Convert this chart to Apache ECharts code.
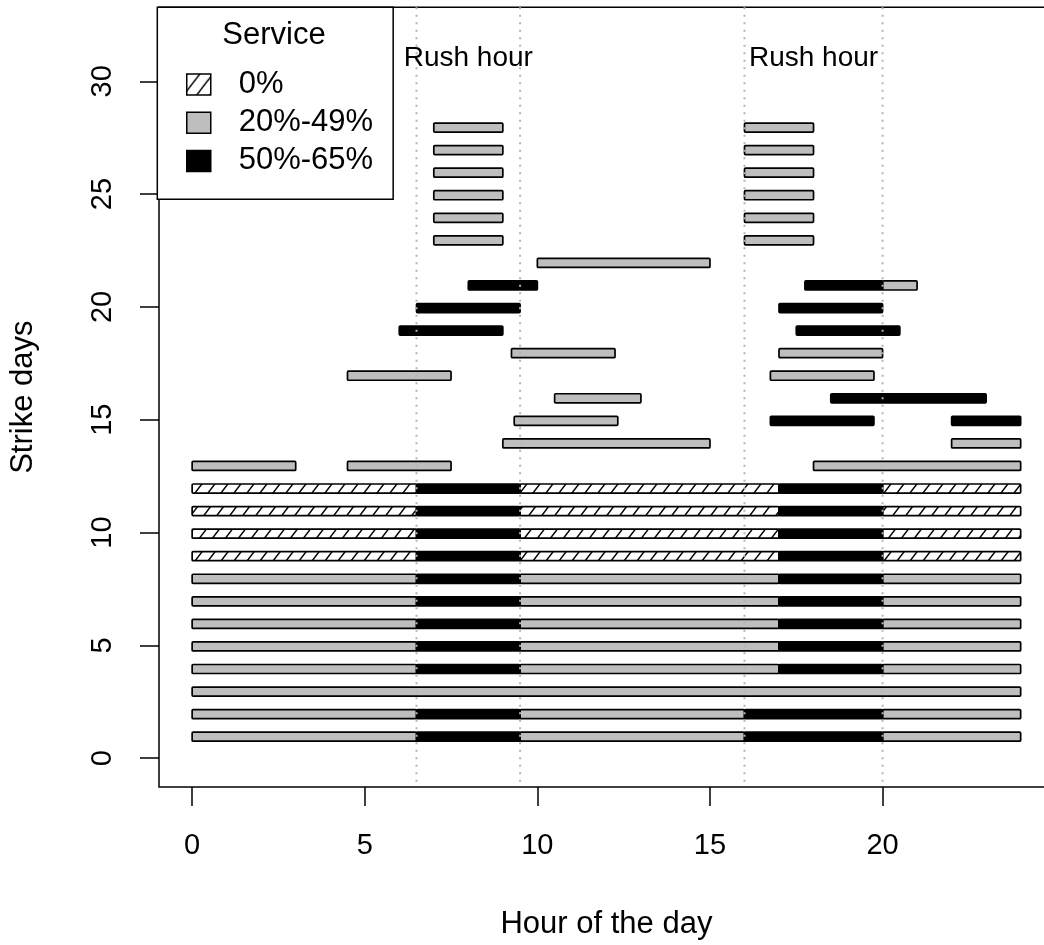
<!DOCTYPE html>
<html><head><meta charset="utf-8">
<script src="https://cdn.jsdelivr.net/npm/echarts@6/dist/echarts.min.js"></script>
<style>html,body{margin:0;padding:0;background:#fff;overflow:hidden}#c{width:1060px;height:945px}</style>
</head><body><div id="c"></div>
<script>
// ---------- data ----------
const xTicks = [0, 5, 10, 15, 20];
const yTicks = [0, 5, 10, 15, 20, 25, 30];
const rushLines = [6.5, 9.5, 16, 20];
const rushLabels = [[8, 31, 'Rush hour'], [18, 31, 'Rush hour']];
const legendNames = ['0%', '20%-49%', '50%-65%'];

// segments: [strike day, start hour, end hour]
const zeroService = [
  [9, 0, 6.5], [9, 9.5, 17], [9, 20, 24],
  [10, 0, 6.5], [10, 9.5, 17], [10, 20, 24],
  [11, 0, 6.5], [11, 9.5, 17], [11, 20, 24],
  [12, 0, 6.5], [12, 9.5, 17], [12, 20, 24]
];
const lowService = [
  [1, 0, 6.5], [1, 9.5, 16], [1, 20, 24],
  [2, 0, 6.5], [2, 9.5, 16], [2, 20, 24],
  [3, 0, 24],
  [4, 0, 6.5], [4, 9.5, 17], [4, 20, 24],
  [5, 0, 6.5], [5, 9.5, 17], [5, 20, 24],
  [6, 0, 6.5], [6, 9.5, 17], [6, 20, 24],
  [7, 0, 6.5], [7, 9.5, 17], [7, 20, 24],
  [8, 0, 6.5], [8, 9.5, 17], [8, 20, 24],
  [13, 0, 3], [13, 4.5, 7.5], [13, 18, 24],
  [14, 9, 15], [14, 22, 24],
  [15, 9.33, 12.33],
  [16, 10.5, 13],
  [17, 4.5, 7.5], [17, 16.75, 19.75],
  [18, 9.25, 12.25], [18, 17, 20],
  [21, 20, 21],
  [22, 10, 15],
  [23, 7, 9], [23, 16, 18],
  [24, 7, 9], [24, 16, 18],
  [25, 7, 9], [25, 16, 18],
  [26, 7, 9], [26, 16, 18],
  [27, 7, 9], [27, 16, 18],
  [28, 7, 9], [28, 16, 18]
];
const highService = [
  [1, 6.5, 9.5], [1, 16, 20],
  [2, 6.5, 9.5], [2, 16, 20],
  [4, 6.5, 9.5], [4, 17, 20],
  [5, 6.5, 9.5], [5, 17, 20],
  [6, 6.5, 9.5], [6, 17, 20],
  [7, 6.5, 9.5], [7, 17, 20],
  [8, 6.5, 9.5], [8, 17, 20],
  [9, 6.5, 9.5], [9, 17, 20],
  [10, 6.5, 9.5], [10, 17, 20],
  [11, 6.5, 9.5], [11, 17, 20],
  [12, 6.5, 9.5], [12, 17, 20],
  [15, 16.75, 19.75], [15, 22, 24],
  [16, 18.5, 23],
  [19, 6, 9], [19, 17.5, 20.5],
  [20, 6.5, 9.5], [20, 17, 20],
  [21, 8, 10], [21, 17.75, 20]
];

// ---------- styling ----------
const FONT = 'Liberation Sans, Arial, sans-serif';
const HALF_H = 0.2;
const Y_SHIFT = -0.05;

function hatchPattern() {
  const w = 13, h = 17;
  const cv = document.createElement('canvas');
  cv.width = w; cv.height = h;
  const ctx = cv.getContext('2d');
  ctx.fillStyle = '#fff';
  ctx.fillRect(0, 0, w, h);
  ctx.strokeStyle = '#000';
  ctx.lineWidth = 1.4;
  ctx.beginPath();
  ctx.moveTo(0, h); ctx.lineTo(w, 0);
  ctx.moveTo(-w, h); ctx.lineTo(0, 0);
  ctx.moveTo(w, h); ctx.lineTo(2 * w, 0);
  ctx.moveTo(0, 2 * h); ctx.lineTo(w, h);
  ctx.moveTo(0, 0); ctx.lineTo(w, -h);
  ctx.stroke();
  return { image: cv, repeat: 'repeat' };
}
const hatch = hatchPattern();
const fills = [hatch, '#bebebe', '#000000'];

function makeBarRender(fill) {
  return function (params, api) {
    const day = api.value(0) + Y_SHIFT, s = api.value(1), e = api.value(2);
    const p0 = api.coord([s, day + HALF_H]);
    const p1 = api.coord([e, day - HALF_H]);
    return {
      type: 'rect',
      shape: { x: p0[0], y: p0[1], width: p1[0] - p0[0], height: p1[1] - p0[1], r: 1 },
      style: { fill: fill, stroke: '#000', lineWidth: 1.7 }
    };
  };
}

const barSeries = [zeroService, lowService, highService].map((d, i) => ({
  type: 'custom',
  name: legendNames[i],
  data: d,
  encode: { x: [1, 2], y: 0 },
  itemStyle: { color: fills[i], borderColor: '#000', borderWidth: 1.5 },
  renderItem: makeBarRender(fills[i]),
  z: 2,
  silent: true
}));

const chart = echarts.init(document.getElementById('c'), null, { renderer: 'canvas' });
chart.setOption({
  animation: false,
  backgroundColor: '#fff',
  grid: { left: 157.3, top: 7.3, width: 896.5, height: 780.4, show: true, borderColor: '#000', borderWidth: 1.5, backgroundColor: 'transparent' },
  xAxis: {
    type: 'value', min: -0.96, max: 24.96,
    axisLine: { show: false, onZero: false },
    splitLine: { show: false },
    axisTick: { show: true, length: 19, customValues: xTicks, lineStyle: { color: '#000', width: 1.5 } },
    axisLabel: { customValues: xTicks, margin: 44, fontSize: 29, fontFamily: FONT, color: '#000' },
    name: 'Hour of the day', nameLocation: 'middle', nameGap: 122,
    nameTextStyle: { fontSize: 31, fontFamily: FONT, color: '#000' }
  },
  yAxis: {
    type: 'value', min: -1.28, max: 33.28,
    axisLine: { show: false, onZero: false },
    splitLine: { show: false },
    axisTick: { show: true, length: 19, customValues: yTicks, lineStyle: { color: '#000', width: 1.5 } },
    axisLabel: { customValues: yTicks, rotate: 90, margin: 42, fontSize: 29, fontFamily: FONT, color: '#000' },
    name: 'Strike days', nameLocation: 'middle', nameGap: 120,
    nameTextStyle: { fontSize: 31, fontFamily: FONT, color: '#000' }
  },
  legend: {
    data: legendNames,
    orient: 'vertical', left: 157.3, top: 7.3,
    padding: [61.7, 20, 22.9, 28.7],
    itemWidth: 24, itemHeight: 21, itemGap: 7.2,
    icon: 'rect',
    backgroundColor: '#fff', borderColor: '#000', borderWidth: 1.5, borderRadius: 0,
    textStyle: { fontSize: 31, fontFamily: FONT, color: '#000', lineHeight: 31, padding: [0, 0, 0, 23] },
    itemStyle: { borderColor: '#000', borderWidth: 1.5 },
    selectedMode: false
  },
  graphic: [{
    type: 'text', x: 274, y: 35, z: 100,
    style: { text: 'Service', font: '31px ' + FONT, fill: '#000', align: 'center', verticalAlign: 'middle' }
  }],
  series: barSeries.concat([
    {
      type: 'custom', name: 'rushLines', data: rushLines.map(v => [v]),
      encode: { x: 0 }, z: 3, silent: true,
      renderItem: function (params, api) {
        const x = api.coord([api.value(0), 0])[0];
        const cs = params.coordSys;
        return {
          type: 'line',
          shape: { x1: x, y1: cs.y, x2: x, y2: cs.y + cs.height },
          style: { stroke: '#b5b5b5', lineWidth: 2, lineDash: [2, 5.5] }
        };
      }
    },
    {
      type: 'custom', name: 'rushText', data: rushLabels,
      encode: { x: 0, y: 1 }, z: 3, silent: true,
      renderItem: function (params, api) {
        const p = api.coord([api.value(0), api.value(1)]);
        return {
          type: 'text', x: p[0], y: p[1],
          style: { text: rushLabels[params.dataIndex][2], font: '28px ' + FONT, fill: '#000', align: 'center', verticalAlign: 'middle' }
        };
      }
    }
  ])
});
</script>
</body></html>
